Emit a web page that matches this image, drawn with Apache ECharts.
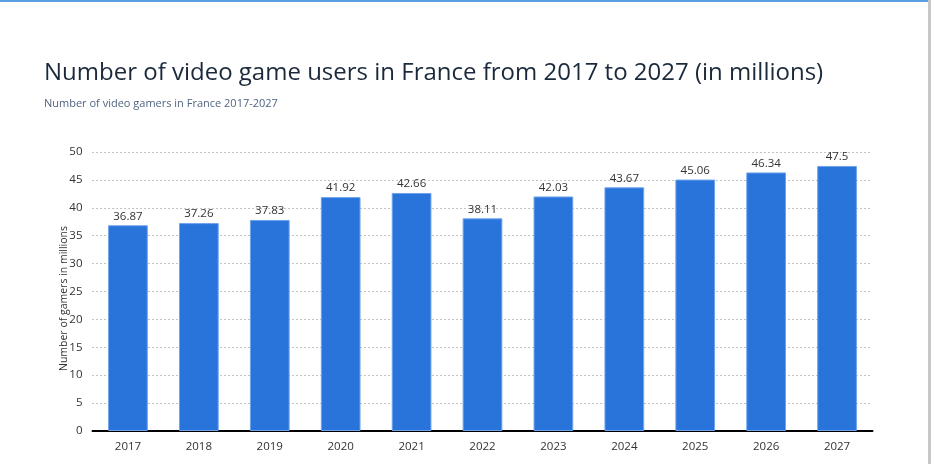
<!DOCTYPE html>
<html><head><meta charset="utf-8">
<script src="https://cdn.jsdelivr.net/npm/echarts@6/dist/echarts.min.js"></script>
<style>
html,body{margin:0;padding:0;background:#fff;}
#c{width:931px;height:464px;}
#topline{position:absolute;left:0;top:0;width:931px;height:2px;background:#5a9fe0;}
#rightline{position:absolute;left:928px;top:0;width:3px;height:464px;background:#c8c8c8;}
</style></head>
<body>
<div id="c"></div>
<div id="topline"></div>
<div id="rightline"></div>
<script>
const categories = ['2017','2018','2019','2020','2021','2022','2023','2024','2025','2026','2027'];
const values = [36.87, 37.26, 37.83, 41.92, 42.66, 38.11, 42.03, 43.67, 45.06, 46.34, 47.5];
const yTicks = [0, 5, 10, 15, 20, 25, 30, 35, 40, 45, 50];

const chart = echarts.init(document.getElementById('c'), null, {renderer:'canvas'});
chart.setOption({
  animation:false,
  backgroundColor:'#fff',
  title:[{
    text:'Number of video game users in France from 2017 to 2027 (in millions)',
    left:39, top:56,
    textStyle:{fontFamily:'Open Sans', fontSize:24, fontWeight:'normal', color:'#1b2a3b'}
  },{
    text:'Number of video gamers in France 2017-2027',
    left:39, top:93,
    textStyle:{fontFamily:'Open Sans', fontSize:11, fontWeight:'normal', color:'#4f6480'}
  }],
  grid:{left:92.5, right:58.5, top:152, bottom:33},
  xAxis:{
    type:'category', data:categories,
    axisLine:{lineStyle:{color:'#000', width:2}},
    axisTick:{show:false},
    axisLabel:{fontFamily:'Open Sans', fontSize:11.5, color:'#333', margin:10}
  },
  yAxis:{
    type:'value', min:yTicks[0], max:yTicks[yTicks.length-1], interval:5,
    name:'Number of gamers in millions', nameLocation:'middle', nameGap:23,
    nameMoveOverlap:false,
    nameTextStyle:{fontFamily:'Open Sans', fontSize:10.5, color:'#333', padding:[0,14,0,0]},
    axisLine:{show:false}, axisTick:{show:false},
    axisLabel:{fontFamily:'Open Sans', fontSize:11.5, color:'#333', margin:10},
    splitLine:{lineStyle:{color:'#888', type:[1,3], width:1}}
  },
  series:[{
    type:'bar', data:values, barWidth:'56%',
    itemStyle:{color:'#2874db', borderColor:'#6fa3ec', borderWidth:1},
    label:{show:true, position:'top', distance:3, fontFamily:'Open Sans', fontSize:11.5, color:'#333'}
  }]
});
</script>
</body></html>
